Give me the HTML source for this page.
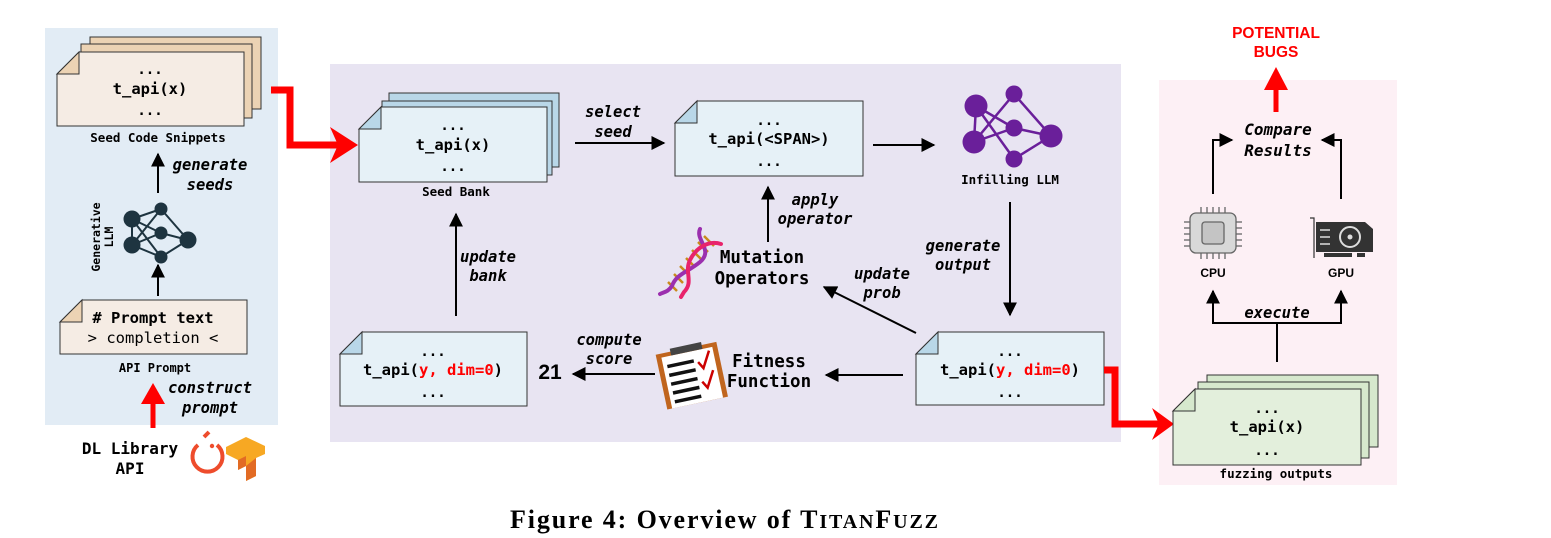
<!DOCTYPE html>
<html><head><meta charset="utf-8"><style>
html,body{margin:0;padding:0;background:#fff;}
svg{display:block;}
.m{font-family:"DejaVu Sans Mono","Liberation Mono",monospace;font-weight:bold;}
.c{font-family:"DejaVu Sans Mono","Liberation Mono",monospace;}
.i{font-family:"DejaVu Sans Mono","Liberation Mono",monospace;font-weight:bold;font-style:italic;}
.s{font-family:"Liberation Sans",sans-serif;font-weight:bold;}
</style></head><body>
<svg width="1551" height="538" viewBox="0 0 1551 538" xmlns="http://www.w3.org/2000/svg">
<defs>
<marker id="a" viewBox="0 0 10 10" refX="9" refY="5" markerWidth="7" markerHeight="7" orient="auto-start-reverse"><path d="M0,0 L10,5 L0,10 z" fill="#000"/></marker>
</defs>
<rect x="45" y="28" width="233" height="397" fill="#e2ecf5"/>
<rect x="330" y="64" width="791" height="378" fill="#e8e4f2"/>
<rect x="1159" y="80" width="238" height="405" fill="#fdf0f5"/>

<g stroke="#333" stroke-width="1">
<rect x="90" y="37" width="171" height="72" fill="#ecd3b4"/>
<rect x="81" y="44" width="171" height="74" fill="#ecd3b4"/>
<path d="M79,52 L244,52 L244,126 L57,126 L57,74 Z" fill="#f5ece4"/>
<path d="M57,74 L79,74 L79,52 Z" fill="#ecd3b4"/>
</g>
<text class="m" x="150" y="74" font-size="14" text-anchor="middle">...</text>
<text class="m" x="150" y="94" font-size="15.5" text-anchor="middle">t_api(x)</text>
<text class="m" x="150" y="115" font-size="14" text-anchor="middle">...</text>
<text class="m" x="158" y="142" font-size="12.5" text-anchor="middle">Seed Code Snippets</text>
<line x1="158" y1="193" x2="158" y2="154" stroke="#000" stroke-width="2" marker-end="url(#a)"/>
<text class="i" x="210" y="170" font-size="15.5" text-anchor="middle">generate</text>
<text class="i" x="210" y="190" font-size="15.5" text-anchor="middle">seeds</text>
<g stroke="#1e3440" stroke-width="2">
<line x1="132" y1="219" x2="161" y2="209"/><line x1="132" y1="219" x2="161" y2="233"/><line x1="132" y1="219" x2="161" y2="257"/>
<line x1="132" y1="245" x2="161" y2="209"/><line x1="132" y1="245" x2="161" y2="233"/><line x1="132" y1="245" x2="161" y2="257"/>
<line x1="132" y1="219" x2="132" y2="245"/>
<line x1="188" y1="240" x2="161" y2="209"/><line x1="188" y1="240" x2="161" y2="233"/><line x1="188" y1="240" x2="161" y2="257"/>
</g>
<g fill="#1e3440"><circle cx="132" cy="219" r="8.5"/><circle cx="132" cy="245" r="8.5"/><circle cx="161" cy="209" r="6.5"/><circle cx="161" cy="233" r="6.5"/><circle cx="161" cy="257" r="6.5"/><circle cx="188" cy="240" r="8.5"/></g>
<text class="m" transform="translate(100,237) rotate(-90)" font-size="11.5" text-anchor="middle">Generative</text>
<text class="m" transform="translate(113,237) rotate(-90)" font-size="11.5" text-anchor="middle">LLM</text>
<line x1="158" y1="296" x2="158" y2="265" stroke="#000" stroke-width="2" marker-end="url(#a)"/>
<g stroke="#333" stroke-width="1">
<path d="M82,300 L247,300 L247,354 L60,354 L60,322 Z" fill="#f5ece4"/>
<path d="M60,322 L82,322 L82,300 Z" fill="#ecd3b4"/>
</g>
<text class="m" x="153" y="323" font-size="15.5" text-anchor="middle"># Prompt text</text>
<text class="c" x="153" y="343" font-size="15.5" text-anchor="middle">&gt; completion &lt;</text>
<text class="m" x="155" y="372" font-size="12" text-anchor="middle">API Prompt</text>
<line x1="153" y1="428" x2="153" y2="400" stroke="#f00" stroke-width="5"/>
<path d="M141,404 L153,383 L165,404 Z" fill="#f00"/>
<text class="i" x="210" y="393" font-size="15.5" text-anchor="middle">construct</text>
<text class="i" x="210" y="413" font-size="15.5" text-anchor="middle">prompt</text>
<text class="m" x="130" y="454" font-size="16" text-anchor="middle">DL Library</text>
<text class="m" x="130" y="474" font-size="16" text-anchor="middle">API</text>
<path d="M198,445 A15,15 0 1 0 217,445" fill="none" stroke="#ee4c2c" stroke-width="4"/>
<path d="M204,437 L209,432" stroke="#ee4c2c" stroke-width="4"/>
<circle cx="212" cy="446" r="2.2" fill="#ee4c2c"/>
<path d="M226,447 L246,437 L265,446 L265,454 L256,458 L256,476 L246,481 L246,466 L238,470 L238,460 L226,454 Z" fill="#f7a823"/>
<path d="M246,466 L246,481 L256,476 L256,458 Z" fill="#e26b24"/>
<path d="M238,460 L238,470 L246,466 L246,456 Z" fill="#e26b24"/>

<path d="M271,90 L290,90 L290,145 L338,145" fill="none" stroke="#f00" stroke-width="7"/>
<path d="M330,127 L358,145 L330,163 L338,145 Z" fill="#f00"/>

<g stroke="#333" stroke-width="1">
<rect x="389" y="93" width="170" height="74" fill="#b9d7e8"/>
<rect x="382" y="101" width="170" height="74" fill="#b9d7e8"/>
<path d="M381,107 L547,107 L547,182 L359,182 L359,129 Z" fill="#e6f1f7"/>
<path d="M359,129 L381,129 L381,107 Z" fill="#b9d7e8"/>
</g>
<text class="m" x="453" y="130" font-size="14" text-anchor="middle">...</text>
<text class="m" x="453" y="150" font-size="15.5" text-anchor="middle">t_api(x)</text>
<text class="m" x="453" y="171" font-size="14" text-anchor="middle">...</text>
<text class="m" x="456" y="196" font-size="12.5" text-anchor="middle">Seed Bank</text>
<line x1="575" y1="143" x2="664" y2="143" stroke="#000" stroke-width="2" marker-end="url(#a)"/>
<text class="i" x="613" y="117" font-size="15.5" text-anchor="middle">select</text>
<text class="i" x="613" y="137" font-size="15.5" text-anchor="middle">seed</text>
<g stroke="#333" stroke-width="1">
<path d="M697,101 L863,101 L863,176 L675,176 L675,123 Z" fill="#e6f1f7"/>
<path d="M675,123 L697,123 L697,101 Z" fill="#b9d7e8"/>
</g>
<text class="m" x="769" y="125" font-size="14" text-anchor="middle">...</text>
<text class="m" x="769" y="144" font-size="15.5" text-anchor="middle">t_api(&lt;SPAN&gt;)</text>
<text class="m" x="769" y="166" font-size="14" text-anchor="middle">...</text>
<line x1="873" y1="145" x2="934" y2="145" stroke="#000" stroke-width="2" marker-end="url(#a)"/>
<g stroke="#6a1f9a" stroke-width="2.5">
<line x1="976" y1="106" x2="1014" y2="128"/><line x1="976" y1="106" x2="1014" y2="159"/><line x1="976" y1="106" x2="974" y2="142"/>
<line x1="974" y1="142" x2="1014" y2="94"/><line x1="974" y1="142" x2="1014" y2="128"/>
<line x1="1014" y1="94" x2="1051" y2="136"/><line x1="1014" y1="128" x2="1051" y2="136"/><line x1="1014" y1="159" x2="1051" y2="136"/>
</g>
<g fill="#6a1f9a"><circle cx="976" cy="106" r="11.5"/><circle cx="1014" cy="94" r="8.5"/><circle cx="1014" cy="128" r="8.5"/><circle cx="974" cy="142" r="11.5"/><circle cx="1051" cy="136" r="11.5"/><circle cx="1014" cy="159" r="8.5"/></g>
<text class="m" x="1010" y="184" font-size="12.5" text-anchor="middle">Infilling LLM</text>
<line x1="1010" y1="202" x2="1010" y2="315" stroke="#000" stroke-width="2" marker-end="url(#a)"/>
<text class="i" x="963" y="251" font-size="15.5" text-anchor="middle">generate</text>
<text class="i" x="963" y="270" font-size="15.5" text-anchor="middle">output</text>
<g stroke="#333" stroke-width="1">
<path d="M938,332 L1104,332 L1104,405 L916,405 L916,354 Z" fill="#e6f1f7"/>
<path d="M916,354 L938,354 L938,332 Z" fill="#b9d7e8"/>
</g>
<text class="m" x="1010" y="356" font-size="14" text-anchor="middle">...</text>
<text class="m" x="1010" y="375" font-size="15.5" text-anchor="middle"><tspan>t_api(</tspan><tspan fill="#f00">y, dim=0</tspan><tspan>)</tspan></text>
<text class="m" x="1010" y="397" font-size="14" text-anchor="middle">...</text>
<line x1="916" y1="333" x2="824" y2="287" stroke="#000" stroke-width="2" marker-end="url(#a)"/>
<text class="i" x="882" y="279" font-size="15.5" text-anchor="middle">update</text>
<text class="i" x="882" y="298" font-size="15.5" text-anchor="middle">prob</text>
<g fill="none">
<g stroke="#c98a1a" stroke-width="2.5">
<line x1="704" y1="236" x2="714" y2="246"/><line x1="698" y1="242" x2="708" y2="252"/><line x1="692" y1="250" x2="701" y2="259"/><line x1="686" y1="258" x2="695" y2="267"/><line x1="680" y1="266" x2="689" y2="275"/><line x1="674" y1="274" x2="683" y2="283"/><line x1="668" y1="282" x2="677" y2="291"/>
</g>
<path d="M700,229 C695,240 714,250 700,262 C688,272 676,274 672,286 C668,292 664,292 660,294" stroke="#9b2fae" stroke-width="4" stroke-linecap="round"/>
<path d="M721,244 C708,240 696,248 690,260 C684,272 694,282 684,292 L681,297" stroke="#e8236b" stroke-width="4" stroke-linecap="round"/>
</g>
<text class="m" x="762" y="263" font-size="17.5" text-anchor="middle">Mutation</text>
<text class="m" x="762" y="284" font-size="17.5" text-anchor="middle">Operators</text>
<line x1="768" y1="242" x2="768" y2="187" stroke="#000" stroke-width="2" marker-end="url(#a)"/>
<text class="i" x="815" y="205" font-size="15.5" text-anchor="middle">apply</text>
<text class="i" x="815" y="224" font-size="15.5" text-anchor="middle">operator</text>
<g transform="rotate(-12 690 372)">
<rect x="660" y="348" width="62" height="56" fill="#c0651e"/>
<rect x="665" y="352" width="52" height="52" fill="#fff"/>
<rect x="675" y="345" width="32" height="7" fill="#444"/>
<g stroke="#111" stroke-width="3.5"><line x1="669" y1="362" x2="696" y2="362"/><line x1="669" y1="371" x2="696" y2="371"/><line x1="669" y1="380" x2="696" y2="380"/><line x1="669" y1="389" x2="696" y2="389"/><line x1="669" y1="398" x2="696" y2="398"/></g>
<g stroke="#c00" stroke-width="2.5" fill="none"><path d="M700,364 L704,371 L713,355"/><path d="M700,384 L704,391 L713,375"/></g>
</g>
<text class="m" x="769" y="367" font-size="17.5" text-anchor="middle">Fitness</text>
<text class="m" x="769" y="387" font-size="17.5" text-anchor="middle">Function</text>
<line x1="903" y1="375" x2="826" y2="375" stroke="#000" stroke-width="2" marker-end="url(#a)"/>
<line x1="655" y1="374" x2="573" y2="374" stroke="#000" stroke-width="2" marker-end="url(#a)"/>
<text class="i" x="609" y="345" font-size="15.5" text-anchor="middle">compute</text>
<text class="i" x="609" y="364" font-size="15.5" text-anchor="middle">score</text>
<text class="s" x="550" y="379" font-size="21" text-anchor="middle">21</text>
<g stroke="#333" stroke-width="1">
<path d="M362,332 L527,332 L527,406 L340,406 L340,354 Z" fill="#e6f1f7"/>
<path d="M340,354 L362,354 L362,332 Z" fill="#b9d7e8"/>
</g>
<text class="m" x="433" y="356" font-size="14" text-anchor="middle">...</text>
<text class="m" x="433" y="375" font-size="15.5" text-anchor="middle"><tspan>t_api(</tspan><tspan fill="#f00">y, dim=0</tspan><tspan>)</tspan></text>
<text class="m" x="433" y="397" font-size="14" text-anchor="middle">...</text>
<line x1="456" y1="316" x2="456" y2="214" stroke="#000" stroke-width="2" marker-end="url(#a)"/>
<text class="i" x="488" y="262" font-size="15.5" text-anchor="middle">update</text>
<text class="i" x="488" y="281" font-size="15.5" text-anchor="middle">bank</text>

<path d="M1104,370 L1115,370 L1115,424 L1160,424" fill="none" stroke="#f00" stroke-width="7"/>
<path d="M1152,408 L1174,424 L1152,440 L1159,424 Z" fill="#f00"/>

<text class="s" x="1276" y="38" font-size="15.5" fill="#f00" text-anchor="middle">POTENTIAL</text>
<text class="s" x="1276" y="57" font-size="15.5" fill="#f00" text-anchor="middle">BUGS</text>
<line x1="1276" y1="112" x2="1276" y2="85" stroke="#f00" stroke-width="5"/>
<path d="M1264,90 L1276,67 L1288,90 Z" fill="#f00"/>
<text class="i" x="1278" y="135" font-size="16" text-anchor="middle">Compare</text>
<text class="i" x="1278" y="156" font-size="16" text-anchor="middle">Results</text>
<path d="M1213,194 L1213,140 L1232,140" fill="none" stroke="#000" stroke-width="2" marker-end="url(#a)"/>
<path d="M1341,199 L1341,140 L1322,140" fill="none" stroke="#000" stroke-width="2" marker-end="url(#a)"/>
<g stroke="#666" stroke-width="1.3">
<g><line x1="1201" y1="207" x2="1201" y2="213"/><line x1="1207" y1="207" x2="1207" y2="213"/><line x1="1213" y1="207" x2="1213" y2="213"/><line x1="1219" y1="207" x2="1219" y2="213"/><line x1="1225" y1="207" x2="1225" y2="213"/>
<line x1="1201" y1="253" x2="1201" y2="259"/><line x1="1207" y1="253" x2="1207" y2="259"/><line x1="1213" y1="253" x2="1213" y2="259"/><line x1="1219" y1="253" x2="1219" y2="259"/><line x1="1225" y1="253" x2="1225" y2="259"/>
<line x1="1184" y1="222" x2="1190" y2="222"/><line x1="1184" y1="228" x2="1190" y2="228"/><line x1="1184" y1="234" x2="1190" y2="234"/><line x1="1184" y1="240" x2="1190" y2="240"/><line x1="1184" y1="246" x2="1190" y2="246"/>
<line x1="1236" y1="222" x2="1242" y2="222"/><line x1="1236" y1="228" x2="1242" y2="228"/><line x1="1236" y1="234" x2="1242" y2="234"/><line x1="1236" y1="240" x2="1242" y2="240"/><line x1="1236" y1="246" x2="1242" y2="246"/></g>
<rect x="1190" y="213" width="46" height="40" rx="6" fill="#d8d8d8"/>
<rect x="1202" y="222" width="22" height="22" rx="3" fill="#c4c4c4"/>
</g>
<text class="s" x="1213" y="277" font-size="12" text-anchor="middle">CPU</text>
<path d="M1310,218 L1314,218 L1314,258" fill="none" stroke="#333" stroke-width="1.2"/>
<path d="M1316,222 L1365,222 L1373,229 L1373,252 L1316,252 Z" fill="#333"/>
<rect x="1324" y="253" width="28" height="4" fill="#333"/><rect x="1357" y="253" width="8" height="4" fill="#333"/>
<g stroke="#ddd" stroke-width="1.5"><line x1="1320" y1="230" x2="1330" y2="230"/><line x1="1320" y1="237" x2="1330" y2="237"/><line x1="1320" y1="244" x2="1330" y2="244"/></g>
<circle cx="1350" cy="237" r="10" fill="none" stroke="#ddd" stroke-width="2"/>
<circle cx="1350" cy="237" r="2.5" fill="#ddd"/>
<text class="s" x="1341" y="277" font-size="12" text-anchor="middle">GPU</text>
<path d="M1277,362 L1277,323 M1213,323 L1341,323" stroke="#000" stroke-width="2" fill="none"/>
<line x1="1213" y1="324" x2="1213" y2="291" stroke="#000" stroke-width="2" marker-end="url(#a)"/>
<line x1="1341" y1="324" x2="1341" y2="291" stroke="#000" stroke-width="2" marker-end="url(#a)"/>
<text class="i" x="1277" y="318" font-size="15.5" text-anchor="middle">execute</text>
<g stroke="#333" stroke-width="1">
<rect x="1207" y="375" width="171" height="72" fill="#d6e8cd"/>
<rect x="1198" y="382" width="171" height="76" fill="#d6e8cd"/>
<path d="M1195,389 L1361,389 L1361,465 L1173,465 L1173,411 Z" fill="#e3efdc"/>
<path d="M1173,411 L1195,411 L1195,389 Z" fill="#d6e8cd"/>
</g>
<text class="m" x="1267" y="413" font-size="14" text-anchor="middle">...</text>
<text class="m" x="1267" y="432" font-size="15.5" text-anchor="middle">t_api(x)</text>
<text class="m" x="1267" y="455" font-size="14" text-anchor="middle">...</text>
<text class="m" x="1276" y="478" font-size="12.5" text-anchor="middle">fuzzing outputs</text>

<text x="510" y="528" font-family="Liberation Serif,serif" font-weight="bold" font-size="26" textLength="428" lengthAdjust="spacing">Figure 4: Overview of T<tspan font-size="20">ITAN</tspan>F<tspan font-size="20">UZZ</tspan></text>
</svg>
</body></html>
